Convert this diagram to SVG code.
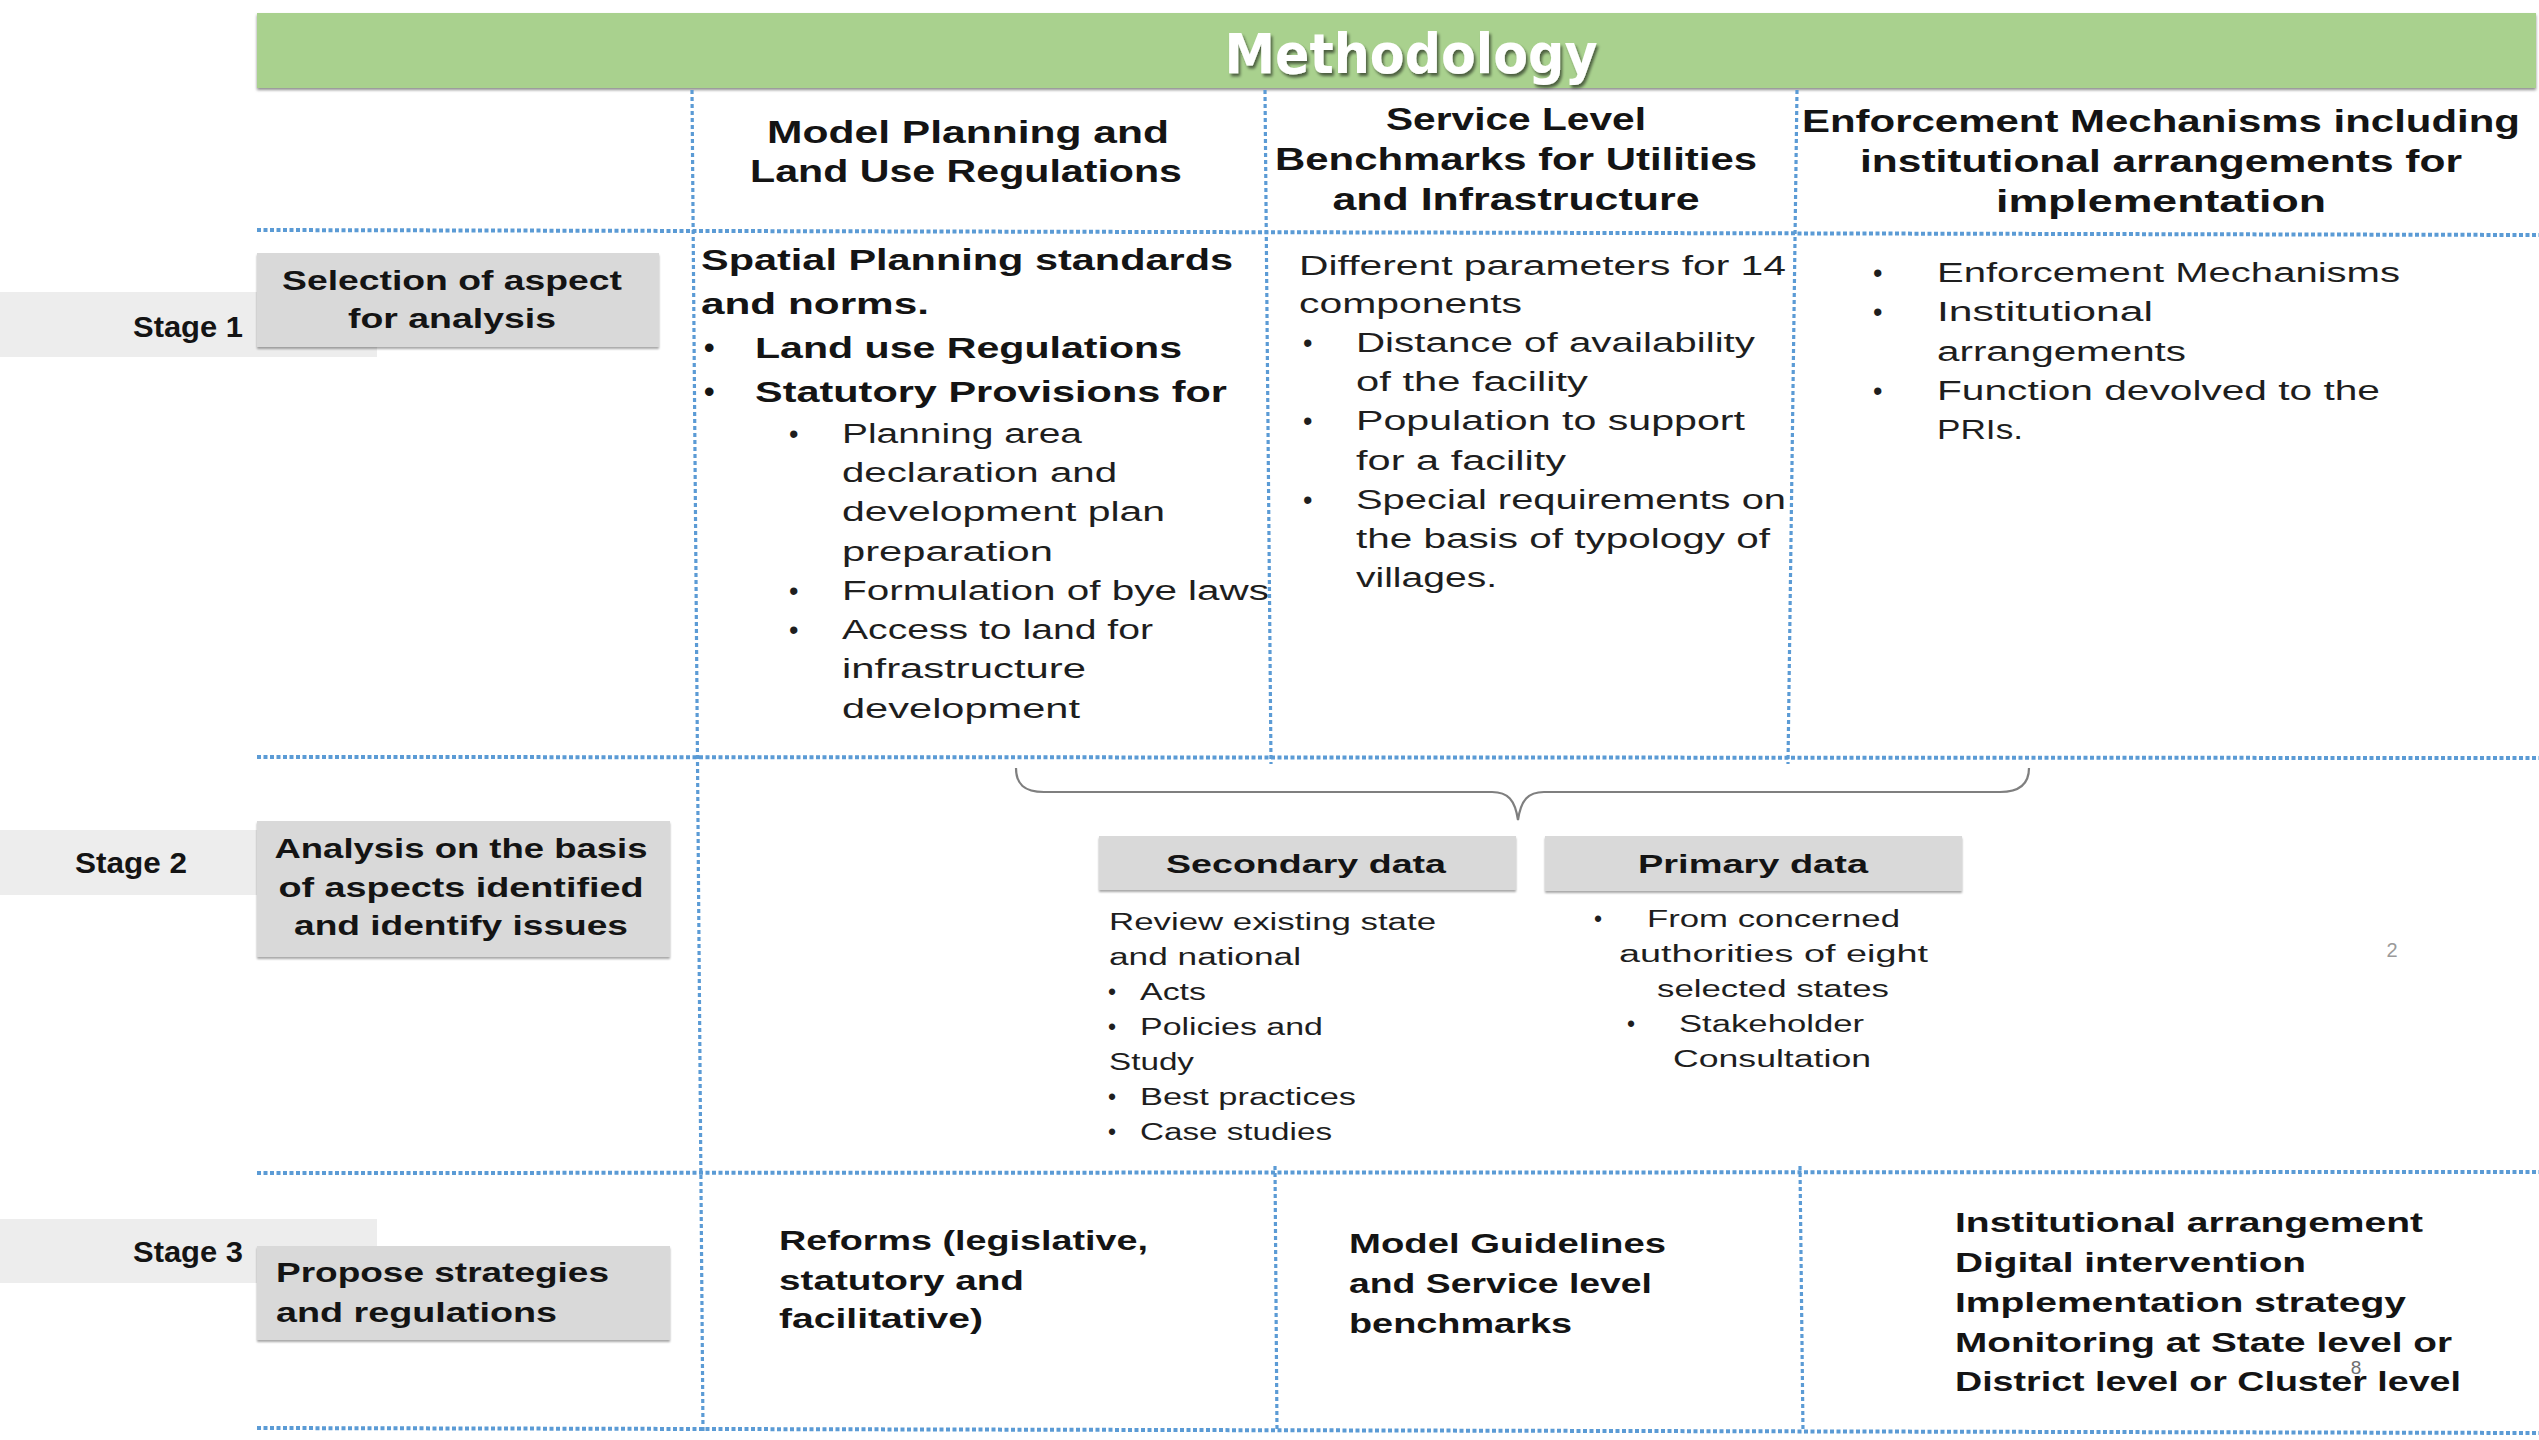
<svg xmlns="http://www.w3.org/2000/svg" width="2539" height="1440" viewBox="0 0 2539 1440">
  <style>
    text { font-family: "Liberation Sans", Arial, sans-serif; fill: #141414; }
    .h { font-size: 32px; font-weight: bold; }
    .bb { font-size: 30px; font-weight: bold; }
    .body { font-size: 27px; fill: #1e1e1e; }
    .sm { font-size: 23px; fill: #1e1e1e; }
    .box { font-size: 28px; font-weight: bold; }
    .stage { font-size: 30px; font-weight: bold; }
    .s3 { font-size: 28px; font-weight: bold; }
    .dh { font-size: 26px; font-weight: bold; }
    .mid { text-anchor: middle; }
    .hline { stroke: #5b9bd5; stroke-width: 4; stroke-dasharray: 4 2.5; fill: none; }
    .vline { stroke: #5b9bd5; stroke-width: 3.2; stroke-dasharray: 4 3; fill: none; }
    .grey { fill: #d9d9d9; }
    .stagebg { fill: #ededed; }
    .pg { font-size: 20px; fill: #9a9a9a; }
  </style>
  <defs>
    <filter id="soft" x="-5%" y="-20%" width="110%" height="160%">
      <feGaussianBlur stdDeviation="1.5"/>
    </filter>
    <filter id="titleshadow" x="-5%" y="-20%" width="110%" height="160%">
      <feGaussianBlur in="SourceAlpha" stdDeviation="1.6"/>
      <feOffset dx="2" dy="2.5"/>
      <feComponentTransfer><feFuncA type="linear" slope="0.55"/></feComponentTransfer>
      <feMerge><feMergeNode/><feMergeNode in="SourceGraphic"/></feMerge>
    </filter>
    <filter id="boxshadow" x="-2%" y="-5%" width="104%" height="115%">
      <feGaussianBlur in="SourceAlpha" stdDeviation="1.2"/>
      <feOffset dx="0" dy="1.5"/>
      <feComponentTransfer><feFuncA type="linear" slope="0.35"/></feComponentTransfer>
      <feMerge><feMergeNode/><feMergeNode in="SourceGraphic"/></feMerge>
    </filter>
  </defs>

  <rect width="2539" height="1440" fill="#ffffff"/>

  <!-- Title bar -->
  <g id="title">
    <rect x="257" y="15" width="2279" height="75" fill="#8c8c8c" filter="url(#soft)"/>
    <rect x="257" y="13" width="2279" height="75" fill="#a9d18e"/>
    <text x="1411" y="73" class="mid" style="font-family:'DejaVu Sans',sans-serif;fill:#ffffff" font-size="55" font-weight="bold" textLength="373" lengthAdjust="spacingAndGlyphs" filter="url(#titleshadow)">Methodology</text>
  </g>

  <!-- Stage labels -->
  <g id="stage1">
    <rect x="0" y="292" width="377" height="65" class="stagebg"/>
    <text x="133" y="337" class="stage" textLength="110" lengthAdjust="spacingAndGlyphs">Stage 1</text>
  </g>
  <g id="stage2">
    <rect x="0" y="830" width="377" height="65" class="stagebg"/>
    <text x="75" y="873" class="stage" textLength="112" lengthAdjust="spacingAndGlyphs">Stage 2</text>
  </g>
  <g id="stage3">
    <rect x="0" y="1219" width="377" height="64" class="stagebg"/>
    <text x="133" y="1262" class="stage" textLength="110" lengthAdjust="spacingAndGlyphs">Stage 3</text>
  </g>

  <!-- Row headers -->
  <g id="row1-head">
    <rect x="257" y="253" width="402" height="94" class="grey" filter="url(#boxshadow)"/>
    <text x="452" y="290" class="box mid" textLength="340" lengthAdjust="spacingAndGlyphs">Selection of aspect</text>
    <text x="452" y="328" class="box mid" textLength="208" lengthAdjust="spacingAndGlyphs">for analysis</text>
  </g>
  <g id="row2-head">
    <rect x="257" y="821" width="413" height="136" class="grey" filter="url(#boxshadow)"/>
    <text x="461" y="858" class="box mid" textLength="373" lengthAdjust="spacingAndGlyphs">Analysis on the basis</text>
    <text x="461" y="897" class="box mid" textLength="365" lengthAdjust="spacingAndGlyphs">of aspects identified</text>
    <text x="461" y="935" class="box mid" textLength="334" lengthAdjust="spacingAndGlyphs">and identify issues</text>
  </g>
  <g id="row3-head">
    <rect x="257" y="1246" width="413" height="94" class="grey" filter="url(#boxshadow)"/>
    <text x="276" y="1282" class="box" textLength="333" lengthAdjust="spacingAndGlyphs">Propose strategies</text>
    <text x="276" y="1322" class="box" textLength="281" lengthAdjust="spacingAndGlyphs">and regulations</text>
  </g>

  <!-- Column headers -->
  <g id="col1-head">
    <text x="968" y="143" class="h mid" textLength="402" lengthAdjust="spacingAndGlyphs">Model Planning and</text>
    <text x="966" y="182" class="h mid" textLength="432" lengthAdjust="spacingAndGlyphs">Land Use Regulations</text>
  </g>
  <g id="col2-head">
    <text x="1516" y="130" class="h mid" textLength="260" lengthAdjust="spacingAndGlyphs">Service Level</text>
    <text x="1516" y="170" class="h mid" textLength="482" lengthAdjust="spacingAndGlyphs">Benchmarks for Utilities</text>
    <text x="1516" y="210" class="h mid" textLength="367" lengthAdjust="spacingAndGlyphs">and Infrastructure</text>
  </g>
  <g id="col3-head">
    <text x="2161" y="132" class="h mid" textLength="718" lengthAdjust="spacingAndGlyphs">Enforcement Mechanisms including</text>
    <text x="2161" y="172" class="h mid" textLength="602" lengthAdjust="spacingAndGlyphs">institutional arrangements for</text>
    <text x="2161" y="212" class="h mid" textLength="330" lengthAdjust="spacingAndGlyphs">implementation</text>
  </g>

  <!-- Stage 1 cells -->
  <g id="cell-1-1">
    <text x="701" y="270" class="bb" textLength="532" lengthAdjust="spacingAndGlyphs">Spatial Planning standards</text>
    <text x="701" y="314" class="bb" textLength="228" lengthAdjust="spacingAndGlyphs">and norms.</text>
    <text x="704" y="358" class="bb">•</text>
    <text x="755" y="358" class="bb" textLength="427" lengthAdjust="spacingAndGlyphs">Land use Regulations</text>
    <text x="704" y="402" class="bb">•</text>
    <text x="755" y="402" class="bb" textLength="472" lengthAdjust="spacingAndGlyphs">Statutory Provisions for</text>
    <text x="789" y="443" class="body">•</text>
    <text x="842" y="443" class="body" textLength="240" lengthAdjust="spacingAndGlyphs">Planning area</text>
    <text x="842" y="482" class="body" textLength="275" lengthAdjust="spacingAndGlyphs">declaration and</text>
    <text x="842" y="521" class="body" textLength="323" lengthAdjust="spacingAndGlyphs">development plan</text>
    <text x="842" y="561" class="body" textLength="211" lengthAdjust="spacingAndGlyphs">preparation</text>
    <text x="789" y="600" class="body">•</text>
    <text x="842" y="600" class="body" textLength="427" lengthAdjust="spacingAndGlyphs">Formulation of bye laws</text>
    <text x="789" y="639" class="body">•</text>
    <text x="842" y="639" class="body" textLength="311" lengthAdjust="spacingAndGlyphs">Access to land for</text>
    <text x="842" y="678" class="body" textLength="244" lengthAdjust="spacingAndGlyphs">infrastructure</text>
    <text x="842" y="718" class="body" textLength="238" lengthAdjust="spacingAndGlyphs">development</text>
  </g>
  <g id="cell-1-2">
    <text x="1299" y="275" class="body" textLength="487" lengthAdjust="spacingAndGlyphs">Different parameters for 14</text>
    <text x="1299" y="313" class="body" textLength="223" lengthAdjust="spacingAndGlyphs">components</text>
    <text x="1303" y="352" class="body">•</text>
    <text x="1356" y="352" class="body" textLength="399" lengthAdjust="spacingAndGlyphs">Distance of availability</text>
    <text x="1356" y="391" class="body" textLength="232" lengthAdjust="spacingAndGlyphs">of the facility</text>
    <text x="1303" y="430" class="body">•</text>
    <text x="1356" y="430" class="body" textLength="389" lengthAdjust="spacingAndGlyphs">Population to support</text>
    <text x="1356" y="470" class="body" textLength="210" lengthAdjust="spacingAndGlyphs">for a facility</text>
    <text x="1303" y="509" class="body">•</text>
    <text x="1356" y="509" class="body" textLength="430" lengthAdjust="spacingAndGlyphs">Special requirements on</text>
    <text x="1356" y="548" class="body" textLength="414" lengthAdjust="spacingAndGlyphs">the basis of typology of</text>
    <text x="1356" y="587" class="body" textLength="141" lengthAdjust="spacingAndGlyphs">villages.</text>
  </g>
  <g id="cell-1-3">
    <text x="1873" y="282" class="body">•</text>
    <text x="1937" y="282" class="body" textLength="463" lengthAdjust="spacingAndGlyphs">Enforcement Mechanisms</text>
    <text x="1873" y="321" class="body">•</text>
    <text x="1937" y="321" class="body" textLength="216" lengthAdjust="spacingAndGlyphs">Institutional</text>
    <text x="1937" y="361" class="body" textLength="249" lengthAdjust="spacingAndGlyphs">arrangements</text>
    <text x="1873" y="400" class="body">•</text>
    <text x="1937" y="400" class="body" textLength="443" lengthAdjust="spacingAndGlyphs">Function devolved to the</text>
    <text x="1937" y="439" class="body" textLength="86" lengthAdjust="spacingAndGlyphs">PRIs.</text>
  </g>

  <!-- Stage 2 data sources -->
  <g id="secondary-data">
    <rect x="1099" y="836" width="417" height="54" class="grey" filter="url(#boxshadow)"/>
    <text x="1306" y="873" class="dh mid" textLength="280" lengthAdjust="spacingAndGlyphs">Secondary data</text>
    <text x="1109" y="930" class="sm" textLength="327" lengthAdjust="spacingAndGlyphs">Review existing state</text>
    <text x="1109" y="965" class="sm" textLength="192" lengthAdjust="spacingAndGlyphs">and national</text>
    <text x="1108" y="1000" class="sm">•</text>
    <text x="1140" y="1000" class="sm" textLength="66" lengthAdjust="spacingAndGlyphs">Acts</text>
    <text x="1108" y="1035" class="sm">•</text>
    <text x="1140" y="1035" class="sm" textLength="183" lengthAdjust="spacingAndGlyphs">Policies and</text>
    <text x="1109" y="1070" class="sm" textLength="85" lengthAdjust="spacingAndGlyphs">Study</text>
    <text x="1108" y="1105" class="sm">•</text>
    <text x="1140" y="1105" class="sm" textLength="216" lengthAdjust="spacingAndGlyphs">Best practices</text>
    <text x="1108" y="1140" class="sm">•</text>
    <text x="1140" y="1140" class="sm" textLength="192" lengthAdjust="spacingAndGlyphs">Case studies</text>
  </g>
  <g id="primary-data">
    <rect x="1545" y="836" width="417" height="55" class="grey" filter="url(#boxshadow)"/>
    <text x="1753" y="873" class="dh mid" textLength="230" lengthAdjust="spacingAndGlyphs">Primary data</text>
    <text x="1594" y="927" class="sm">•</text>
    <text x="1647" y="927" class="sm" textLength="253" lengthAdjust="spacingAndGlyphs">From concerned</text>
    <text x="1619" y="962" class="sm" textLength="309" lengthAdjust="spacingAndGlyphs">authorities  of eight</text>
    <text x="1657" y="997" class="sm" textLength="232" lengthAdjust="spacingAndGlyphs">selected states</text>
    <text x="1627" y="1032" class="sm">•</text>
    <text x="1679" y="1032" class="sm" textLength="185" lengthAdjust="spacingAndGlyphs">Stakeholder</text>
    <text x="1673" y="1067" class="sm" textLength="198" lengthAdjust="spacingAndGlyphs">Consultation</text>
  </g>
  <text x="2392" y="957" class="pg mid">2</text>

  <!-- Stage 3 cells -->
  <g id="cell-3-1">
    <text x="779" y="1250" class="s3" textLength="369" lengthAdjust="spacingAndGlyphs">Reforms (legislative,</text>
    <text x="779" y="1290" class="s3" textLength="245" lengthAdjust="spacingAndGlyphs">statutory and</text>
    <text x="779" y="1328" class="s3" textLength="204" lengthAdjust="spacingAndGlyphs">facilitative)</text>
  </g>
  <g id="cell-3-2">
    <text x="1349" y="1253" class="s3" textLength="317" lengthAdjust="spacingAndGlyphs">Model Guidelines</text>
    <text x="1349" y="1293" class="s3" textLength="303" lengthAdjust="spacingAndGlyphs">and Service level</text>
    <text x="1349" y="1333" class="s3" textLength="223" lengthAdjust="spacingAndGlyphs">benchmarks</text>
  </g>
  <g id="cell-3-3">
    <text x="1955" y="1232" class="s3" textLength="468" lengthAdjust="spacingAndGlyphs">Institutional arrangement</text>
    <text x="1955" y="1272" class="s3" textLength="351" lengthAdjust="spacingAndGlyphs">Digital intervention</text>
    <text x="1955" y="1312" class="s3" textLength="451" lengthAdjust="spacingAndGlyphs">Implementation strategy</text>
    <text x="1955" y="1352" class="s3" textLength="497" lengthAdjust="spacingAndGlyphs">Monitoring at State level or</text>
    <text x="1955" y="1391" class="s3" textLength="506" lengthAdjust="spacingAndGlyphs">District level or Cluster level</text>
    <text x="2356" y="1374" font-size="19" class="mid" style="fill:#6e6e6e">8</text>
  </g>

  <!-- Table grid and brace -->
  <g id="connectors">
    <line x1="257" y1="230" x2="2539" y2="235" class="hline"/>
    <line x1="257" y1="757" x2="2539" y2="758" class="hline"/>
    <line x1="257" y1="1173" x2="2539" y2="1172" class="hline"/>
    <line x1="257" y1="1428" x2="2539" y2="1433" class="hline"/>
    <line x1="692" y1="90" x2="703" y2="1432" class="vline"/>
    <line x1="1265" y1="90" x2="1271" y2="764" class="vline"/>
    <line x1="1797" y1="90" x2="1788" y2="764" class="vline"/>
    <line x1="1275" y1="1166" x2="1277" y2="1432" class="vline"/>
    <line x1="1800" y1="1166" x2="1803" y2="1432" class="vline"/>
    <path d="M1016,768 C1016,784 1024,792 1044,792 L1492,792 C1508,792 1515,800 1518,820 C1521,800 1528,792 1544,792 L2000,792 C2020,792 2029,784 2029,768" fill="none" stroke="#7f7f7f" stroke-width="2.2"/>
  </g>
</svg>
